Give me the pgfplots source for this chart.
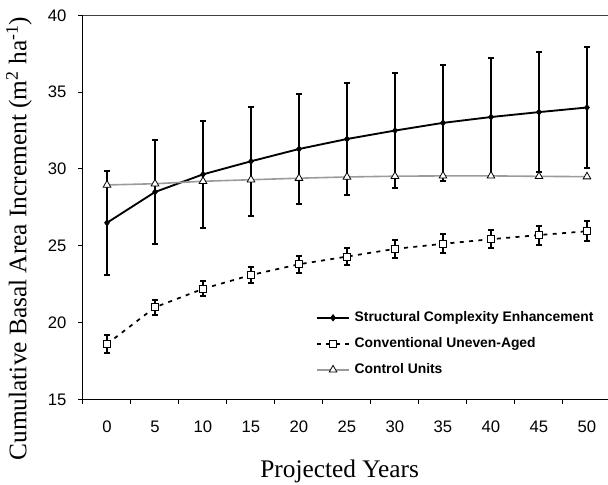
\documentclass[border=0pt]{standalone}
\usepackage{fontspec}
\setmainfont{Liberation Serif}
\newfontfamily\arial{Liberation Sans}
\usepackage{pgfplots}
\pgfplotsset{compat=1.18}
\definecolor{ctl}{RGB}{155,155,155}

\begin{document}
\begin{tikzpicture}
\useasboundingbox (-62.25pt,-64.125pt) rectangle (393.75pt,299.625pt);
\begin{axis}[at={(0,0)},anchor=south west,
  width=396pt,height=288.15pt,scale only axis,
  xmin=-2.5,xmax=52.5,ymin=15,ymax=40,
  axis lines*=left,axis line style={black,line width=0.75pt},
  tick align=outside,major tick length=3.75pt,minor tick length=3.75pt,
  xtick={0,5,...,50},minor xtick={-2.5,2.5,...,52.5},
  major x tick style={draw=none},minor x tick style={black,line width=0.75pt},
  ytick={15,20,...,40},major y tick style={black,line width=0.75pt},
  /pgf/number format/assume math mode=true,
  ticklabel style={font=\arial\fontsize{12.5}{15}\selectfont},
  xticklabel style={anchor=north,inner sep=0pt,yshift=-12pt},
  yticklabel style={anchor=east,inner sep=0pt,xshift=-8.5pt},
  xlabel={Projected Years},
  ylabel={Cumulative Basal Area Increment (m\textsuperscript{2} ha\textsuperscript{-1})},
  label style={font=\fontsize{19}{23}\selectfont},
  xlabel style={at={(axis description cs:0.486,-0.2025)},anchor=base,inner sep=0pt},
  ylabel style={at={(axis description cs:-0.1074,0.419)},anchor=base,inner sep=0pt},
  legend cell align=left,
  legend image code/.code={\draw[mark repeat=2,mark phase=2,#1] plot coordinates {(0pt,0pt) (12pt,0pt) (24pt,0pt)};},
  legend style={at={(axis description cs:0.441,0.145)},anchor=west,draw=none,fill=none,inner sep=0pt,
    font=\arial\bfseries\fontsize{10.4}{12}\selectfont,row sep=9.5pt,column sep=3.5pt,
    nodes={inner sep=0pt,text height=8pt,text depth=2pt}},
  extra description/.code={\draw[black!75,line width=0.75pt] (axis description cs:0,1) -- (axis description cs:1,1);},
]
\addplot[black,line width=1.4pt,mark=diamond*,mark size=2.4pt,mark options={solid,fill=black,line width=0.5pt},
  error bars/.cd,y dir=both,y explicit,error bar style={line width=1.5pt,black,solid},
  error mark options={rotate=90,mark size=2.3pt,line width=1.5pt,black}]
coordinates {(0,26.5)+-(0,3.37) (5,28.5)+-(0,3.4) (10,29.65)+-(0,3.5) (15,30.5)+-(0,3.55) (20,31.3)+-(0,3.6)
  (25,31.95)+-(0,3.65) (30,32.5)+-(0,3.75) (35,33.0)+-(0,3.77) (40,33.38)+-(0,3.82) (45,33.7)+-(0,3.9) (50,34.0)+-(0,3.93)};
\addlegendentry{Structural Complexity Enhancement}
\addplot[black,line width=1.3pt,dash pattern=on 3pt off 4pt,mark=square*,mark size=2.7pt,mark options={solid,fill=white,line width=0.7pt},
  error bars/.cd,y dir=both,y explicit,error bar style={line width=1.5pt,black,solid},
  error mark options={rotate=90,mark size=2.2pt,line width=1.5pt,black}]
coordinates {(0,18.61)+-(0,0.6) (5,21.0)+-(0,0.49) (10,22.2)+-(0,0.48) (15,23.1)+-(0,0.54) (20,23.8)+-(0,0.55)
  (25,24.3)+-(0,0.55) (30,24.8)+-(0,0.58) (35,25.13)+-(0,0.62) (40,25.43)+-(0,0.6) (45,25.7)+-(0,0.62) (50,25.95)+-(0,0.65)};
\addlegendentry{Conventional Uneven-Aged}
\addplot[ctl,line width=1.2pt,mark=triangle*,mark size=3.3pt,mark options={solid,fill=white,draw=black,line width=0.6pt}]
coordinates {(0,28.96) (5,29.04) (10,29.2) (15,29.3) (20,29.4) (25,29.48) (30,29.53) (35,29.55) (40,29.55) (45,29.52) (50,29.5)};
\addlegendentry{Control Units}
\end{axis}
\end{tikzpicture}
\end{document}
